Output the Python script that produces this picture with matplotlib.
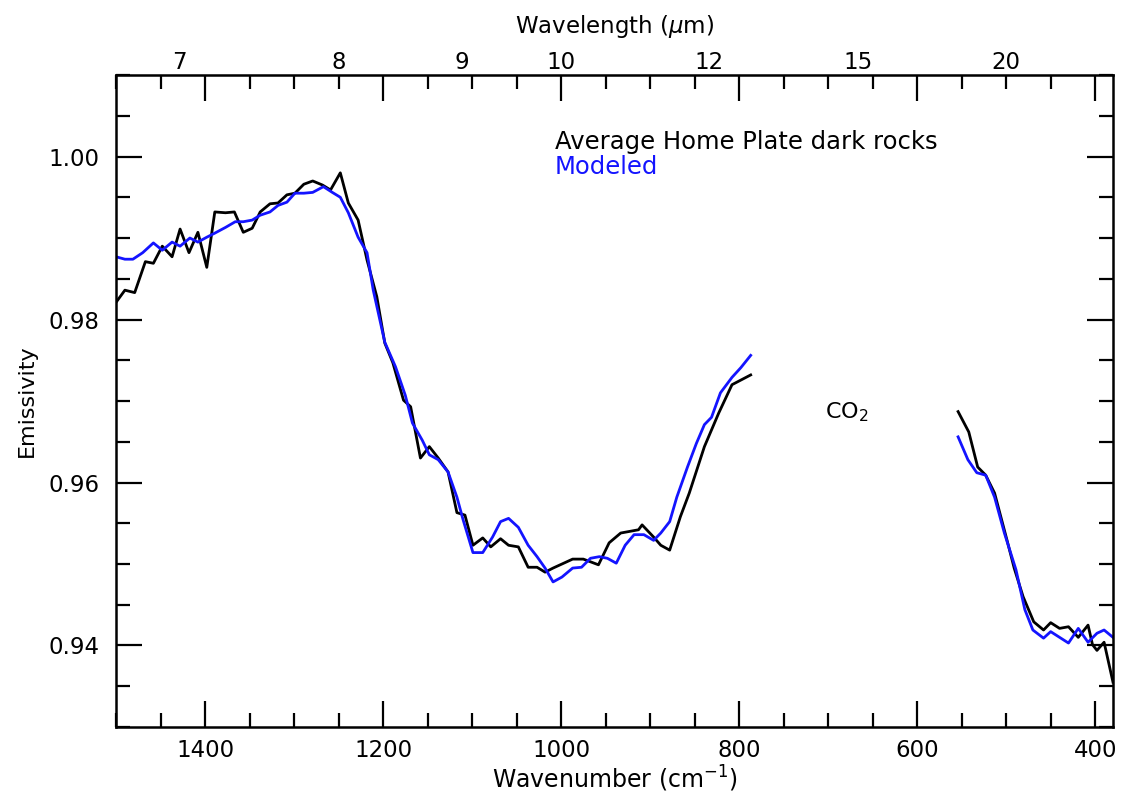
import matplotlib
matplotlib.use('Agg')
import matplotlib.pyplot as plt
import numpy as np

plt.rcParams['font.family'] = ['DejaVu Sans']
plt.rcParams['mathtext.fontset'] = 'dejavusans'

# measured spectrum (wavenumber cm-1, emissivity), two windows either side of the CO2 band
meas_wn1 = [1500, 1490, 1479, 1467, 1458, 1448, 1437, 1428, 1418, 1408, 1398, 1389, 1377, 1367,
            1357, 1347, 1338, 1327, 1318, 1308, 1299, 1289, 1279, 1268, 1259, 1248, 1239, 1228,
            1218, 1207, 1198, 1189, 1177, 1169, 1158, 1148, 1138, 1127, 1117, 1108, 1099, 1088,
            1079, 1068, 1059, 1048, 1037, 1027, 1018, 1009, 999, 987, 975, 958, 946, 933, 923,
            913, 909, 896, 888, 878, 866, 856, 839, 823, 808, 787]
meas_em1 = [0.9821, 0.9836, 0.9833, 0.9871, 0.9869, 0.9890, 0.9877, 0.9911, 0.9882, 0.9907,
            0.9864, 0.9932, 0.9931, 0.9932, 0.9907, 0.9912, 0.9932, 0.9942, 0.9943, 0.9953,
            0.9955, 0.9966, 0.9970, 0.9965, 0.9959, 0.9980, 0.9943, 0.9922, 0.9873, 0.9828,
            0.9771, 0.9747, 0.9701, 0.9693, 0.9630, 0.9644, 0.9630, 0.9613, 0.9563, 0.9560,
            0.9523, 0.9532, 0.9521, 0.9531, 0.9523, 0.9521, 0.9496, 0.9496, 0.9490, 0.9495,
            0.9500, 0.9506, 0.9506, 0.9499, 0.9526, 0.9538, 0.9540, 0.9542, 0.9548, 0.9533,
            0.9523, 0.9517, 0.9558, 0.9587, 0.9644, 0.9685, 0.9720, 0.9732]
meas_wn2 = [554, 542, 532, 523, 513, 499, 491, 481, 469, 458, 450, 440, 430, 419, 408, 403,
            398, 390, 380]
meas_em2 = [0.9687, 0.9662, 0.9619, 0.9609, 0.9587, 0.9529, 0.9495, 0.9460, 0.9429, 0.9419,
            0.9428, 0.9421, 0.9423, 0.9410, 0.9425, 0.9401, 0.9394, 0.9404, 0.9355]

# modeled spectrum
mod_wn1 = [1500, 1490, 1481, 1470, 1458, 1448, 1437, 1428, 1417, 1408, 1398, 1389, 1377, 1366,
           1357, 1347, 1338, 1327, 1318, 1308, 1299, 1289, 1279, 1267, 1257, 1248, 1239, 1228,
           1218, 1211, 1198, 1186, 1175, 1167, 1156, 1148, 1138, 1127, 1117, 1110, 1099, 1088,
           1077, 1068, 1059, 1048, 1037, 1027, 1018, 1009, 999, 987, 977, 967, 957, 948, 938,
           928, 918, 907, 896, 888, 878, 870, 858, 848, 839, 831, 821, 808, 798, 787]
mod_em1 = [0.9877, 0.9874, 0.9874, 0.9882, 0.9894, 0.9885, 0.9895, 0.9890, 0.9900, 0.9895,
           0.9901, 0.9906, 0.9913, 0.9920, 0.9920, 0.9922, 0.9928, 0.9932, 0.9940, 0.9944,
           0.9955, 0.9955, 0.9956, 0.9963, 0.9956, 0.9950, 0.9931, 0.9901, 0.9882, 0.9836,
           0.9772, 0.9742, 0.9707, 0.9673, 0.9652, 0.9634, 0.9628, 0.9613, 0.9582, 0.9554,
           0.9514, 0.9514, 0.9533, 0.9552, 0.9556, 0.9545, 0.9523, 0.9509, 0.9495, 0.9478,
           0.9484, 0.9495, 0.9496, 0.9507, 0.9509, 0.9507, 0.9501, 0.9523, 0.9536, 0.9536,
           0.9529, 0.9538, 0.9552, 0.9582, 0.9619, 0.9648, 0.9671, 0.9680, 0.9710, 0.9729,
           0.9741, 0.9756]
mod_wn2 = [554, 543, 533, 523, 513, 502, 489, 479, 470, 458, 450, 440, 430, 419, 408, 398,
           390, 380]
mod_em2 = [0.9656, 0.9628, 0.9612, 0.9609, 0.9582, 0.9538, 0.9493, 0.9444, 0.9419, 0.9409,
           0.9417, 0.9410, 0.9403, 0.9421, 0.9404, 0.9415, 0.9419, 0.9410]

wl_ticks = [7, 8, 9, 10, 12, 15, 20]

fig = plt.figure(figsize=(11.24, 7.94), dpi=100)
ax = fig.add_axes([0.1032, 0.0844, 0.8870, 0.8211])

ax.plot(meas_wn1, meas_em1, color='black', lw=2.0)
ax.plot(meas_wn2, meas_em2, color='black', lw=2.0)
ax.plot(mod_wn1, mod_em1, color='#1414ff', lw=2.0)
ax.plot(mod_wn2, mod_em2, color='#1414ff', lw=2.0)

ax.set_xlim(1500, 380)
ax.set_ylim(0.93, 1.01)
ax.set_xticks([1400, 1200, 1000, 800, 600, 400])
ax.set_xticks(np.arange(400, 1501, 50), minor=True)
ax.set_yticks([0.94, 0.96, 0.98, 1.00])
ax.set_yticks(np.arange(0.93, 1.0101, 0.005), minor=True)
ax.set_yticklabels(['0.94', '0.96', '0.98', '1.00'])
ax.tick_params(which='both', direction='in', top=True, right=True, width=1.6,
               labelsize=16.5, colors='black')
ax.tick_params(which='major', length=19)
ax.tick_params(which='minor', length=10)
ax.tick_params(axis='x', which='major', pad=9)
ax.tick_params(axis='y', which='major', pad=12)
for s in ax.spines.values():
    s.set_linewidth(1.8)

ax.set_xlabel('Wavenumber (cm$^{-1}$)', fontsize=17)
ax.xaxis.set_label_coords(0.5, -0.056)
ax.set_ylabel('Emissivity', fontsize=16)
ax.yaxis.set_label_coords(-0.079, 0.5)

sec = ax.secondary_xaxis('top', functions=(lambda x: 1e4 / x, lambda x: 1e4 / x))
sec.set_xticks(wl_ticks)
sec.set_xticklabels([str(t) for t in wl_ticks])
sec.tick_params(length=0, labelsize=16.5, pad=0.5)
sec.set_xlabel('Wavelength ($\\mu$m)', fontsize=16.5, labelpad=13)

ax.text(0.44, 0.897, 'Average Home Plate dark rocks', transform=ax.transAxes,
        fontsize=17.5, color='black', va='center')
ax.text(0.44, 0.859, 'Modeled', transform=ax.transAxes,
        fontsize=17.5, color='#1414ff', va='center')
ax.text(0.711, 0.483, 'CO$_2$', transform=ax.transAxes, fontsize=16, va='center')

fig.savefig('out.png', dpi=100)
